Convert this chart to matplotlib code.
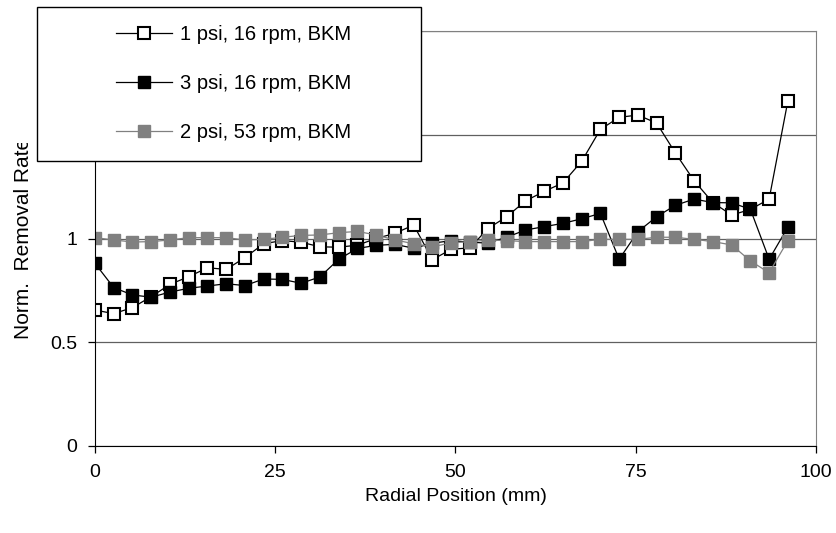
import matplotlib
matplotlib.use('Agg')
import matplotlib.pyplot as plt
from matplotlib.patches import Rectangle
from matplotlib.transforms import Bbox

plt.rcParams['font.family'] = ['Liberation Sans', 'DejaVu Sans']

# radial positions (mm)
posicion = [0.0, 2.6, 5.2, 7.8, 10.4, 13.0, 15.6, 18.2, 20.8, 23.4,
            26.0, 28.6, 31.2, 33.8, 36.4, 39.0, 41.6, 44.2, 46.8, 49.4,
            52.0, 54.5, 57.1, 59.7, 62.3, 64.9, 67.5, 70.1, 72.7, 75.3,
            77.9, 80.5, 83.1, 85.7, 88.3, 90.9, 93.5, 96.1]

psi1_16rpm = [0.655, 0.638, 0.667, 0.72, 0.779, 0.816, 0.859, 0.851, 0.908, 0.975,
              0.99, 0.982, 0.96, 0.958, 0.968, 1.0, 1.025, 1.065, 0.898, 0.948,
              0.955, 1.048, 1.105, 1.181, 1.227, 1.268, 1.372, 1.526, 1.584, 1.595,
              1.556, 1.412, 1.278, 1.173, 1.113, 1.14, 1.19, 1.663]

psi3_16rpm = [0.88, 0.763, 0.728, 0.717, 0.742, 0.76, 0.771, 0.782, 0.773, 0.805,
              0.803, 0.784, 0.815, 0.90, 0.952, 0.967, 0.972, 0.953, 0.977, 0.99,
              0.982, 0.978, 1.006, 1.041, 1.057, 1.073, 1.095, 1.121, 0.90, 1.033,
              1.105, 1.16, 1.19, 1.173, 1.172, 1.141, 0.90, 1.055]

psi2_53rpm = [1.004, 0.993, 0.983, 0.985, 0.993, 1.004, 1.004, 1.004, 0.993, 0.996,
              1.006, 1.015, 1.017, 1.028, 1.034, 1.017, 0.993, 0.975, 0.96, 0.979,
              0.985, 0.992, 0.99, 0.985, 0.985, 0.985, 0.985, 0.996, 0.996, 0.996,
              1.006, 1.006, 0.996, 0.985, 0.969, 0.892, 0.835, 0.99]

etiquetas = ['1 psi, 16 rpm, BKM', '3 psi, 16 rpm, BKM', '2 psi, 53 rpm, BKM']

fig = plt.figure(figsize=(8.37, 5.33), dpi=100)
ax = fig.add_axes([95 / 837, 87 / 533, 721 / 837, 415 / 533])

l1, = ax.plot(posicion, psi1_16rpm, color='black', lw=0.9, marker='s', ms=8.5,
              mfc='white', mec='black', mew=1.5)
l2, = ax.plot(posicion, psi3_16rpm, color='black', lw=0.9, marker='s', ms=8.5,
              mfc='black', mec='black', mew=1.0)
l3, = ax.plot(posicion, psi2_53rpm, color='#808080', lw=0.9, marker='s', ms=8.5,
              mfc='#808080', mec='#808080', mew=1.0)

ax.set_xlim(0, 100)
ax.set_ylim(0, 2)
ax.set_xticks([0, 25, 50, 75, 100])
ax.set_yticks([0, 0.5, 1, 1.5, 2])
ax.set_yticklabels(['0', '0.5', '1', '1.5', '2'])
ax.grid(True, axis='y', color='#606060', lw=0.9)
ax.set_axisbelow(True)
ax.tick_params(direction='out', length=5, width=0.9, labelsize=14, pad=8)
for s in ['top', 'right']:
    ax.spines[s].set_color('#808080')
for s in ['left', 'bottom']:
    ax.spines[s].set_color('black')
ax.set_xlabel('Radial Position (mm)', fontsize=14, labelpad=5)
ylab = ax.set_ylabel('Norm.  Removal Rate', fontsize=15, labelpad=12)
# en el original el título del eje Y sale recortado por arriba
ylab.set_clip_box(Bbox([[0, 0], [95, 533 - 143]]))
ylab.set_clip_on(True)

# caja de la leyenda (tapa la esquina superior izquierda, como en el original)
caja = Rectangle((37 / 837, 1 - 161 / 533), 384 / 837, 154 / 533,
                 transform=fig.transFigure, facecolor='white',
                 edgecolor='black', lw=1.0, zorder=5)
fig.patches.append(caja)

leg = fig.legend([l1, l2, l3], etiquetas, loc='upper left',
                 bbox_to_anchor=(108 / 837, 1 - 17 / 533),
                 bbox_transform=fig.transFigure, frameon=False,
                 fontsize=14.5, handlelength=2.8, labelspacing=1.49,
                 handletextpad=0.4, borderaxespad=0)
leg.set_zorder(6)

fig.savefig('out.png', dpi=100)
